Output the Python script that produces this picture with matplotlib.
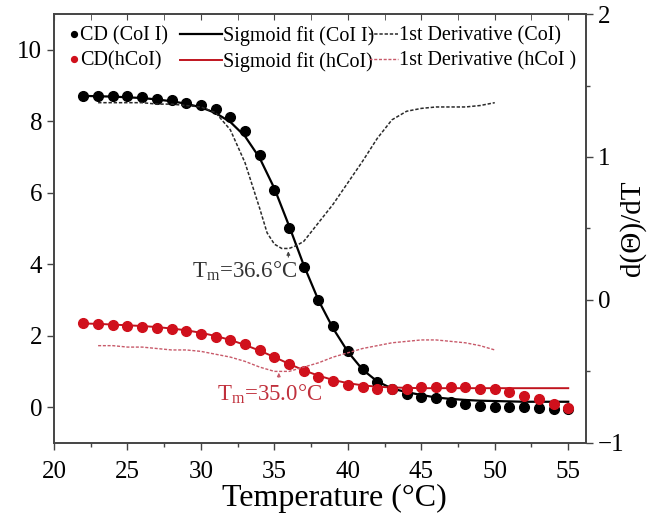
import matplotlib
matplotlib.use("Agg")
import matplotlib.pyplot as plt
from matplotlib.ticker import MultipleLocator

plt.rcParams['font.family'] = ['Liberation Serif', 'DejaVu Serif']
plt.rcParams['mathtext.default'] = 'regular'

# CD signal vs temperature
temp = list(range(22, 56))
cd_col = [8.72, 8.72, 8.72, 8.71, 8.68, 8.63, 8.59, 8.52, 8.45, 8.33, 8.13, 7.74,
          7.05, 6.07, 5.00, 3.93, 3.00, 2.26, 1.58, 1.06, 0.71, 0.50, 0.38, 0.29,
          0.25, 0.14, 0.10, 0.03, 0.01, -0.01, -0.01, -0.03, -0.05, -0.05]
fit_col = [8.71, 8.70, 8.69, 8.67, 8.65, 8.61, 8.56, 8.49, 8.39, 8.23, 7.98, 7.58,
           6.97, 6.12, 5.07, 3.97, 2.99, 2.20, 1.55, 1.05, 0.72, 0.52, 0.42, 0.34,
           0.27, 0.23, 0.20, 0.18, 0.17, 0.16, 0.15, 0.15, 0.15, 0.15]
cd_hcol = [2.35, 2.32, 2.30, 2.28, 2.25, 2.22, 2.18, 2.13, 2.06, 1.97, 1.88, 1.78,
           1.59, 1.41, 1.20, 1.02, 0.84, 0.72, 0.61, 0.55, 0.52, 0.52, 0.52, 0.55,
           0.55, 0.55, 0.55, 0.52, 0.50, 0.41, 0.32, 0.22, 0.08, -0.03]
fit_hcol = [2.34, 2.33, 2.31, 2.29, 2.27, 2.24, 2.20, 2.15, 2.08, 1.99, 1.88, 1.74,
            1.58, 1.40, 1.21, 1.03, 0.88, 0.76, 0.67, 0.61, 0.57, 0.55, 0.54, 0.53,
            0.53, 0.53, 0.53, 0.53, 0.53, 0.53, 0.53, 0.53, 0.53, 0.53]

# first derivatives (right axis)
temp_d_col = [23, 24, 25, 26, 27, 28, 29, 30, 31, 32, 33, 34, 34.5, 35, 35.5, 36,
              36.5, 37, 38, 39, 40, 41, 42, 43, 44, 45, 46, 47, 48, 49, 50]
deriv_col = [1.38, 1.38, 1.38, 1.38, 1.37, 1.37, 1.36, 1.35, 1.31, 1.19, 0.96, 0.64,
             0.47, 0.39, 0.36, 0.36, 0.38, 0.41, 0.54, 0.67, 0.82, 0.97, 1.13, 1.26,
             1.32, 1.34, 1.35, 1.35, 1.35, 1.36, 1.38]
temp_d_hcol = list(range(23, 51))
deriv_hcol = [-0.32, -0.32, -0.33, -0.33, -0.34, -0.35, -0.35, -0.36, -0.38, -0.40,
              -0.43, -0.47, -0.50, -0.50, -0.47, -0.44, -0.40, -0.37, -0.34, -0.32,
              -0.30, -0.29, -0.28, -0.28, -0.29, -0.30, -0.32, -0.35]

tm_col = (35.95, 0.36)
tm_hcol = (35.3, -0.49)

red = '#d0101c'
red_fit = '#c0141e'
red_dash = '#c85a6a'

fig = plt.figure(figsize=(6.59, 5.21), dpi=100)
ax = fig.add_axes([0.082, 0.150, 0.807, 0.823])
ax2 = ax.twinx()

p1, = ax.plot(temp, cd_col, 'o', color='black', ms=7, zorder=4)
l1, = ax.plot(temp, fit_col, '-', color='black', lw=1.6, zorder=3)
p2, = ax.plot(temp, cd_hcol, 'o', color=red, ms=7, zorder=4)
l2, = ax.plot(temp, fit_hcol, '-', color=red_fit, lw=1.4, zorder=3)
d1, = ax2.plot(temp_d_col, deriv_col, '--', color='#2a2a2a', lw=1.1, dashes=(2.2, 1.2))
d2, = ax2.plot(temp_d_hcol, deriv_hcol, '--', color=red_dash, lw=1.0, dashes=(2.2, 1.2))

ax2.annotate('', xy=tm_col, xytext=(tm_col[0], tm_col[1] - 0.08),
             arrowprops=dict(arrowstyle='-|>', color='#444444', lw=0.8, mutation_scale=5))
ax2.annotate('', xy=tm_hcol, xytext=(tm_hcol[0], tm_hcol[1] - 0.07),
             arrowprops=dict(arrowstyle='-|>', color=red_dash, lw=0.8, mutation_scale=5))
ax.text(29.4, 3.8, 'T$_m$=36.6°C', fontsize=16.5, color='#333333', va='center', ha='left')
ax.text(31.1, 0.36, 'T$_m$=35.0°C', fontsize=16.5, color='#c0303c', va='center', ha='left')

ax.set_xlim(20, 56.2)
ax.set_ylim(-1, 11)
ax2.set_ylim(-1, 2)
ax.set_xticks(range(20, 60, 5))
ax.xaxis.set_minor_locator(MultipleLocator(2.5))
ax.set_yticks(range(0, 12, 2))
ax2.set_yticks([-1, 0, 1, 2])
ax2.yaxis.set_minor_locator(MultipleLocator(0.5))

ax.tick_params(axis='both', which='major', labelsize=18, direction='out', length=5, width=1, color='#444444')
ax.tick_params(axis='x', which='minor', direction='out', length=3, width=1, color='#444444')
ax2.tick_params(axis='y', which='major', labelsize=18, direction='out', length=5, width=1, color='#444444')
ax2.tick_params(axis='y', which='minor', direction='out', length=3, width=1, color='#444444')
ax.tick_params(axis='x', which='major', pad=8)

# top ticks point inward
ax_top = ax.secondary_xaxis('top')
ax_top.set_xticks(range(20, 60, 5))
ax_top.xaxis.set_minor_locator(MultipleLocator(2.5))
ax_top.tick_params(which='both', direction='in', length=4, labeltop=False, color='#444444')
ax.tick_params(axis='x', which='both', top=False)

for a in (ax, ax2):
    for s in a.spines.values():
        s.set_color('#444444')
        s.set_linewidth(1.2)
ax_top.spines['top'].set_visible(False)

ax.set_xlabel('Temperature (°C)', fontsize=23)
ax.xaxis.set_label_coords(0.528, -0.095)
ax2.set_ylabel('d(Θ)/dT', fontsize=21, labelpad=-4)

kw = dict(frameon=False, fontsize=14.5, borderaxespad=0, labelspacing=0.3,
          handletextpad=0.05)
leg1 = ax2.legend([p1, p2], ['CD (CoI I)', 'CD(hCoI)'], loc='upper left',
                  bbox_to_anchor=(0.013, 0.99), handlelength=0.5, markerscale=0.6, **kw)
ax2.add_artist(leg1)
leg2 = ax2.legend([l1, l2], ['Sigmoid fit (CoI I)', 'Sigmoid fit (hCoI)'], loc='upper left',
                  bbox_to_anchor=(0.221, 0.99), handlelength=2.1, **kw)
ax2.add_artist(leg2)
ax2.legend([d1, d2], ['1st Derivative (CoI)', '1st Derivative (hCoI )'], loc='upper left',
           bbox_to_anchor=(0.578, 0.99), handlelength=1.4, **kw)

fig.savefig('out.png', dpi=100)
